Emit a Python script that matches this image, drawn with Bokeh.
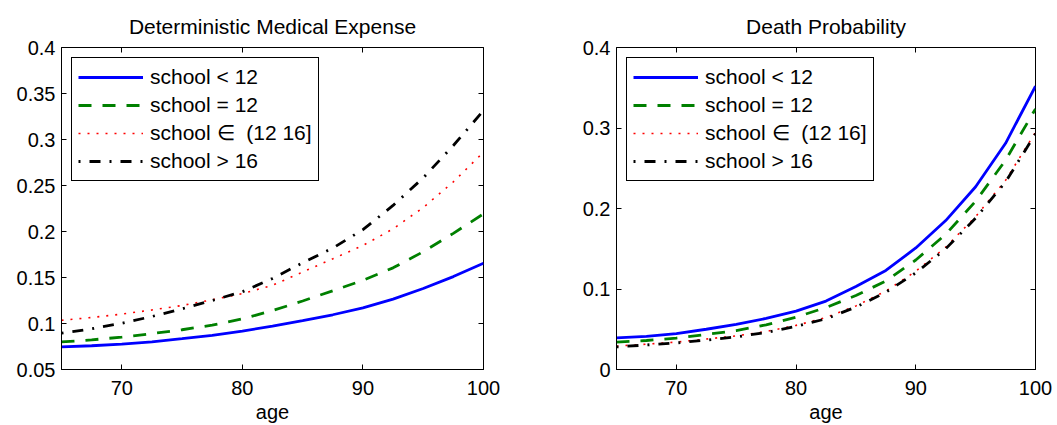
from bokeh.plotting import figure
from bokeh.layouts import row
from bokeh.models import (Range1d, FixedTicker, LinearAxis, Legend, LegendItem,
                          CustomLabelingPolicy)
from bokeh.embed import file_html
from bokeh.resources import INLINE

# ---------------- data ----------------
ages = [65, 67.5, 70, 72.5, 75, 77.5, 80, 82.5, 85, 87.5, 90, 92.5, 95, 97.5, 100]

med_lt12 = [0.0745, 0.0758, 0.0775, 0.0800, 0.0835, 0.0872, 0.0918, 0.0972, 0.1030,
            0.1095, 0.1170, 0.1265, 0.1380, 0.1510, 0.1655]
med_eq12 = [0.0800, 0.0822, 0.0852, 0.0890, 0.0932, 0.0982, 0.1050, 0.1140, 0.1245,
            0.1355, 0.1470, 0.1605, 0.1780, 0.1980, 0.2192]
med_12_16 = [0.1035, 0.1065, 0.1102, 0.1147, 0.1196, 0.1258, 0.1325, 0.1415, 0.1560,
             0.1703, 0.1848, 0.2029, 0.2260, 0.2540, 0.2862]
med_gt16 = [0.0895, 0.0942, 0.1003, 0.1076, 0.1160, 0.1250, 0.1345, 0.1490, 0.1660,
            0.1820, 0.2020, 0.2283, 0.2583, 0.2935, 0.3315]

dth_lt12 = [0.0393, 0.0412, 0.0446, 0.0500, 0.0560, 0.0635, 0.0725, 0.0850, 0.1030,
            0.1230, 0.1510, 0.1850, 0.2270, 0.2810, 0.3520]
dth_eq12 = [0.0340, 0.0360, 0.0390, 0.0435, 0.0484, 0.0555, 0.0650, 0.0770, 0.0919,
            0.1100, 0.1360, 0.1680, 0.2090, 0.2600, 0.3238]
dth_12_16 = [0.0290, 0.0315, 0.0340, 0.0378, 0.0418, 0.0472, 0.0548, 0.0645, 0.0790,
             0.0975, 0.1220, 0.1520, 0.1900, 0.2350, 0.2948]
dth_gt16 = [0.0280, 0.0305, 0.0330, 0.0365, 0.0405, 0.0460, 0.0535, 0.0630, 0.0775,
            0.0960, 0.1200, 0.1500, 0.1880, 0.2330, 0.2928]

series_labels = ["school < 12", "school = 12", "school \u2208  (12 16]", "school > 16"]

x_ticks = [70, 80, 90, 100]
med_y_ticks = [0.05, 0.1, 0.15, 0.2, 0.25, 0.3, 0.35, 0.4]
med_y_labels = ["0.05", "0.1", "0.15", "0.2", "0.25", "0.3", "0.35", "0.4"]
dth_y_ticks = [0, 0.1, 0.2, 0.3, 0.4]
dth_y_labels = ["0", "0.1", "0.2", "0.3", "0.4"]

FONT = "Liberation Sans"
styles = [
    dict(line_color="#0000ff", line_width=2.8, line_dash="solid"),
    dict(line_color="#008000", line_width=2.8, line_dash="13 11"),
    dict(line_color="#ff0000", line_width=1.6, line_dash="2 7"),
    dict(line_color="#000000", line_width=2.8, line_dash="2 9 11 9"),
]

HIDE_LABELS = """
try { for (const i of Array.from(indices)) { indices.unset(i) } } catch (e) {}
return indices
"""


def make_panel(title, series, yr, yticks, ylabels, fw, bl, br):
    p = figure(frame_width=fw, frame_height=322, output_backend="svg", toolbar_location=None,
               x_range=Range1d(65, 100), y_range=Range1d(*yr),
               min_border_left=bl, min_border_right=br, min_border_top=47,
               min_border_bottom=56)
    p.title.text = title
    p.title.align = "center"
    p.title.vertical_align = "top"
    p.title.text_font = FONT
    p.title.text_font_style = "normal"
    p.title.text_font_size = "21px"
    p.title.text_color = "#000000"
    p.title.offset = 0
    p.title.standoff = 15
    p.xgrid.visible = False
    p.ygrid.visible = False
    p.outline_line_color = "#000000"
    p.outline_line_width = 1
    p.outline_line_alpha = 1
    p.background_fill_color = "white"
    p.border_fill_color = "white"

    for ax in (p.xaxis[0], p.yaxis[0]):
        ax.major_tick_in = 5
        ax.major_tick_out = 0
        ax.minor_tick_line_color = None
        ax.axis_line_color = "#000000"
        ax.major_tick_line_color = "#000000"
        ax.major_label_text_font = FONT
        ax.major_label_text_font_size = "20px"
        ax.major_label_text_color = "#000000"
    p.xaxis[0].ticker = FixedTicker(ticks=x_ticks)
    p.yaxis[0].ticker = FixedTicker(ticks=yticks)
    p.yaxis[0].major_label_overrides = {t: l for t, l in zip(yticks, ylabels)}
    p.xaxis[0].major_label_overrides = {t: str(t) for t in x_ticks}
    p.xaxis[0].major_label_standoff = 11
    p.yaxis[0].major_label_standoff = 6
    p.xaxis[0].axis_label = "age"
    p.xaxis[0].axis_label_text_font = FONT
    p.xaxis[0].axis_label_text_font_size = "20px"
    p.xaxis[0].axis_label_text_font_style = "normal"
    p.xaxis[0].axis_label_standoff = 3
    p.xaxis[0].axis_label_text_color = "#000000"

    for loc, tk in (("right", yticks), ("above", x_ticks)):
        ax = LinearAxis(ticker=FixedTicker(ticks=tk), major_tick_in=5, major_tick_out=0,
                        minor_tick_line_color=None, axis_line_color=None,
                        major_label_text_font_size="0px", major_label_standoff=0,
                        major_label_policy=CustomLabelingPolicy(code=HIDE_LABELS))
        p.add_layout(ax, loc)

    items = []
    for ys, st, lab in zip(series, styles, series_labels):
        r = p.line(ages, ys, **st)
        items.append(LegendItem(label=lab, renderers=[r]))
    leg = Legend(items=items, location="top_left", glyph_width=65, glyph_height=26,
                 label_height=26, spacing=2, padding=6, margin=10, label_standoff=7,
                 label_text_font=FONT, label_text_font_size="21px",
                 label_text_color="#000000", border_line_color="#000000",
                 border_line_width=1, border_line_alpha=1, background_fill_alpha=1)
    p.add_layout(leg)
    return p


left = make_panel("Deterministic Medical Expense", [med_lt12, med_eq12, med_12_16, med_gt16],
                  (0.05, 0.4), med_y_ticks, med_y_labels, 422, 61, 47)
right = make_panel("Death Probability", [dth_lt12, dth_eq12, dth_12_16, dth_gt16],
                   (0, 0.4), dth_y_ticks, dth_y_labels, 419, 86, 22)

layout = row(left, right)
open("out.html", "w").write(file_html(layout, INLINE))
